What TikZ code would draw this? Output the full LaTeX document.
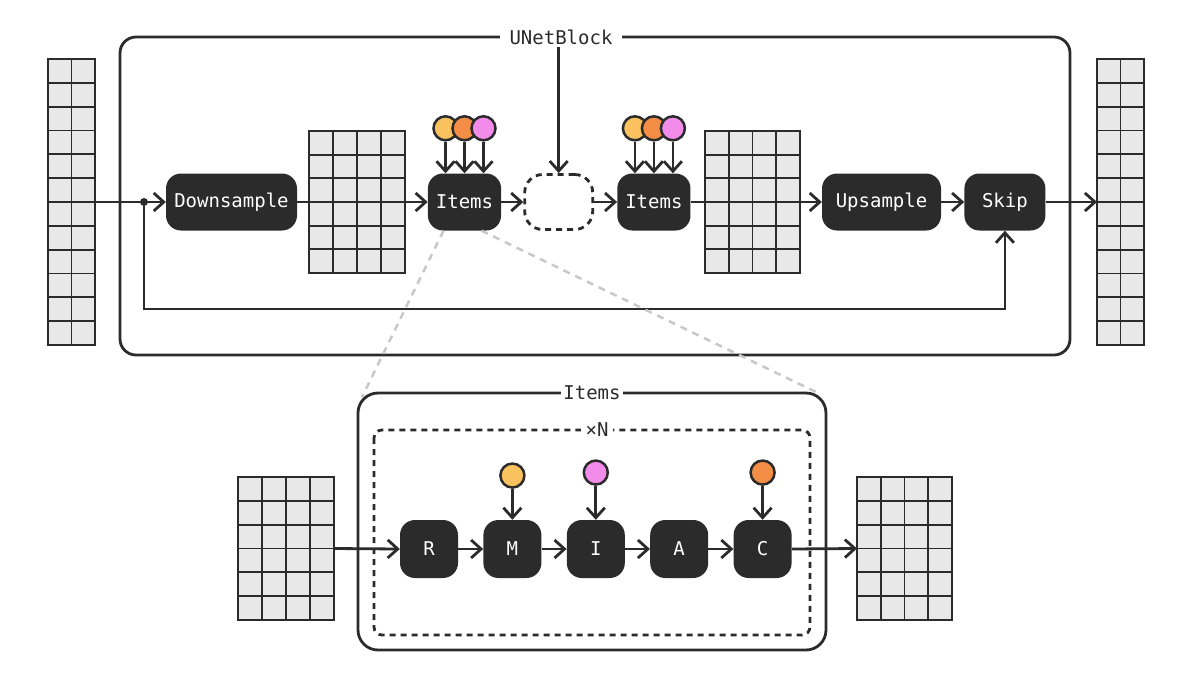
\documentclass[tikz,border=0pt]{standalone}
\usepackage{fontspec}
\setmonofont{DejaVu Sans Mono}
\usetikzlibrary{arrows.meta,positioning,calc}

\definecolor{ink}{HTML}{2B2B2B}
\definecolor{cellgray}{HTML}{E8E8E8}
\definecolor{condyellow}{HTML}{F9C25E}
\definecolor{condorange}{HTML}{F48D45}
\definecolor{condpink}{HTML}{F38BEA}
\definecolor{zoomgray}{HTML}{C8C8C8}

\tikzset{
  block/.style={fill=ink, text=white, rounded corners=15pt, minimum height=57pt,
    inner xsep=8pt, font=\ttfamily\fontsize{19}{21}\selectfont},
  letter/.style={block, minimum width=58pt, minimum height=58pt, inner xsep=0pt},
  ghost/.style={draw=ink, dash pattern=on 6pt off 5pt, line width=2.8pt,
    rounded corners=18pt, minimum width=68pt, minimum height=55pt},
  frame/.style={draw=ink, line width=2.8pt, rounded corners=16pt},
  frame label/.style={fill=white, text=ink, inner ysep=2pt,
    font=\ttfamily\fontsize{19}{21}\selectfont},
  flow/.style={draw=ink, line width=2.8pt, -{Straight Barb[length=10pt,width=18pt]}},
  plain/.style={draw=ink, line width=2.8pt},
  cond/.style={circle, draw=ink, line width=2.5pt, minimum size=24pt, inner sep=0pt},
  gridbox/.style={draw=ink, fill=cellgray, line width=1.8pt, inner sep=0pt, outer sep=0pt},
  gridline/.style={ink, line width=1.8pt},
  zoomline/.style={zoomgray, dash pattern=on 7pt off 6pt, line width=2.5pt},
  dot/.style={circle, fill=ink, minimum size=8pt, inner sep=0pt}
}

% name, centre, columns, rows, cell width, cell height
\newcommand{\featmap}[6]{%
  \node[gridbox, minimum width=#3*#5pt, minimum height=#4*#6pt] (#1) at #2 {};
  \foreach \i in {1,...,#3}
    \draw[gridline] ($(#1.north west)+(\i*#5,0)$) -- ($(#1.south west)+(\i*#5,0)$);
  \foreach \j in {1,...,#4}
    \draw[gridline] ($(#1.north west)+(0,\j*#6)$) -- ($(#1.north east)+(0,\j*#6)$);
}

\begin{document}
\begin{tikzpicture}[x=1pt, y=-1pt]
  \useasboundingbox (0,0) rectangle (1200,689);

  % UNetBlock
  \draw[frame] (120,37) rectangle (1070,355);
  \node[frame label, inner xsep=10pt] (unet label) at (561,37) {UNetBlock};

  \featmap{in map}{(71.5,202)}{2}{12}{23.5}{23.83}
  \featmap{down map}{(357,202)}{4}{6}{24}{23.67}
  \featmap{up map}{(752.5,202)}{4}{6}{23.75}{23.67}
  \featmap{out map}{(1120.5,202)}{2}{12}{23.5}{23.83}

  \node[block, minimum width=131pt] (downsample) at (231.5,202) {Downsample};
  \node[block, minimum width=71pt] (items in) at (464.5,202) {Items};
  \node[ghost] (middle) [right=22pt of items in] {};
  \node[block, minimum width=72pt] (items out) [right=23pt of middle] {Items};
  \node[block, minimum width=119pt] (upsample) at (881.5,202) {Upsample};
  \node[block, minimum width=81pt] (skip) [right=23pt of upsample] {Skip};
  \node[dot] (split) at (144,202) {};

  \foreach \col/\dx [count=\k] in {condyellow/-19,condorange/0,condpink/19} {
    \node[cond, fill=\col] (cond in \k) at ($(items in.north)+(\dx,-45)$) {};
    \node[cond, fill=\col] (cond out \k) at ($(items out.north)+(\dx,-45)$) {};
  }
  \foreach \k in {1,2,3} {
    \draw[flow] (cond in \k) -- (cond in \k |- items in.north);
    \draw[flow] (cond out \k) -- (cond out \k |- items out.north);
  }

  \draw[flow] (in map.east) -- (downsample.west);
  \draw[plain] (downsample.east) -- (down map.west);
  \draw[flow] (down map.east) -- (items in.west);
  \draw[flow] (items in) -- (middle);
  \draw[flow] (middle) -- (items out);
  \draw[plain] (items out.east) -- (up map.west);
  \draw[flow] (up map.east) -- (upsample.west);
  \draw[flow] (upsample) -- (skip);
  \draw[flow] (skip.east) -- (out map.west);
  \draw[flow] (split) -- ++(0,107) -| (skip.south);
  \draw[flow] (unet label.south -| middle.north) -- (middle.north);

  % zoom into Items
  \coordinate (zoom left) at (362,397);
  \coordinate (zoom right) at (816,392);
  \draw[zoomline] ($(items in.south)+(-21,0)$) -- (zoom left);
  \draw[zoomline] ($(items in.south)+(17,0)$) -- (zoom right);

  % Items
  \draw[frame, rounded corners=20pt] (358,393) rectangle (826,650);
  \node[frame label, inner xsep=2pt] (items label) at (592,393) {Items};
  \draw[frame, dash pattern=on 6pt off 5pt, rounded corners=8pt] (374,430) rectangle (810,635);
  \node[frame label, inner xsep=5pt] (repeat label) at (597,430) {×N};

  \featmap{items in map}{(286,548.5)}{4}{6}{24}{23.83}
  \featmap{items out map}{(904.5,548.5)}{4}{6}{23.75}{23.83}

  \node[letter] (r block) at (429,549) {R};
  \node[letter] (m block) [right=25pt of r block] {M};
  \node[letter] (i block) [right=25pt of m block] {I};
  \node[letter] (a block) [right=25pt of i block] {A};
  \node[letter] (c block) [right=25pt of a block] {C};

  \node[cond, fill=condyellow] (cond m) [above=31pt of m block] {};
  \node[cond, fill=condpink] (cond i) [above=34pt of i block] {};
  \node[cond, fill=condorange] (cond c) [above=34pt of c block] {};

  \draw[flow] (cond m) -- (m block);
  \draw[flow] (cond i) -- (i block);
  \draw[flow] (cond c) -- (c block);

  \draw[flow] (items in map.east) -- (r block.west);
  \draw[flow] (r block) -- (m block);
  \draw[flow] (m block) -- (i block);
  \draw[flow] (i block) -- (a block);
  \draw[flow] (a block) -- (c block);
  \draw[flow] (c block.east) -- (items out map.west);
\end{tikzpicture}
\end{document}
